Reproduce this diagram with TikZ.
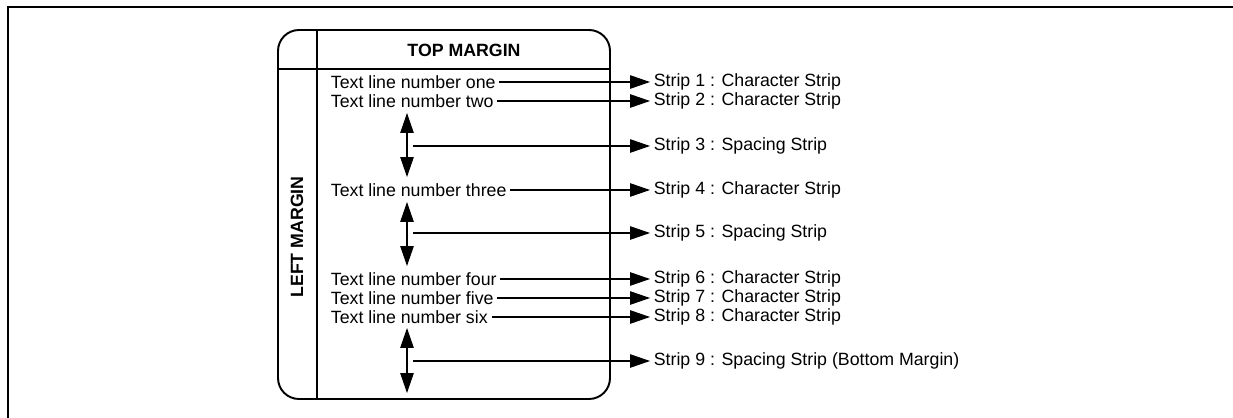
\documentclass[tikz,border=0pt]{standalone}
\usepackage{fontspec}
\setmainfont{Liberation Sans}
\usepackage{tikz}
\usetikzlibrary{arrows.meta, positioning}

\begin{document}
\begin{tikzpicture}[
  x=0.02cm, y=-0.02cm,
  frame/.style={
    line width=1.1pt
  },
  txt/.style={
    anchor=west,
    inner sep=2pt,
    font=\fontsize{10.1}{12}\selectfont
  },
  lead/.style={
    line width=0.6pt,
    -{Triangle[length=0.4cm, width=0.27cm]}
  },
  gaparrow/.style={
    line width=0.6pt,
    {Triangle[length=0.4cm, width=0.27cm]}-{Triangle[length=0.4cm, width=0.27cm]}
  }
]
  \useasboundingbox (0,0) rectangle (1233,418);

  % outer frame
  \draw[frame] (8,418) -- (8,7) -- (1233,7);

  % page with margins
  \draw[frame, rounded corners=0.42cm] (278,30) rectangle (610,399);
  \draw[frame] (317,30) -- (317,399);
  \draw[frame] (278,69) -- (610,69);
  \node[font=\fontsize{10.1}{12}\selectfont\bfseries] (top) at (464,50) {TOP MARGIN};
  \node[font=\fontsize{10.1}{12}\selectfont\bfseries, rotate=90] (left) at (297,237) {LEFT MARGIN};

  % text lines
  \node[txt] (t1) at (327,82) {Text line number one};
  \node[txt] (t2) at (327,101) {Text line number two};
  \node[txt] (t3) at (327,190) {Text line number three};
  \node[txt] (t4) at (327,279) {Text line number four};
  \node[txt] (t5) at (327,298) {Text line number five};
  \node[txt] (t6) at (327,317) {Text line number six};

  % strips
  \node[txt] (s1) at (650,82) {Strip 1 : Character Strip};
  \node[txt] (s2) at (650,101) {Strip 2 : Character Strip};
  \node[txt] (s3) at (650,146) {Strip 3 : Spacing Strip};
  \node[txt] (s4) at (650,190) {Strip 4 : Character Strip};
  \node[txt] (s5) at (650,233) {Strip 5 : Spacing Strip};
  \node[txt] (s6) at (650,279) {Strip 6 : Character Strip};
  \node[txt] (s7) at (650,298) {Strip 7 : Character Strip};
  \node[txt] (s8) at (650,317) {Strip 8 : Character Strip};
  \node[txt] (s9) at (650,361) {Strip 9 : Spacing Strip (Bottom Margin)};

  % character strips
  \draw[lead] (t1) -- (s1);
  \draw[lead] (t2) -- (s2);
  \draw[lead] (t3) -- (s4);
  \draw[lead] (t4) -- (s6);
  \draw[lead] (t5) -- (s7);
  \draw[lead] (t6) -- (s8);

  % spacing strips
  \coordinate (a3) at (407,113);
  \coordinate (b3) at (407,177);
  \coordinate (g3) at (413,146);
  \draw[gaparrow] (a3) -- (b3);
  \draw[lead] (g3) -- (s3);

  \coordinate (a5) at (407,202);
  \coordinate (b5) at (407,266);
  \coordinate (g5) at (413,233);
  \draw[gaparrow] (a5) -- (b5);
  \draw[lead] (g5) -- (s5);

  \coordinate (a9) at (407,328);
  \coordinate (b9) at (407,393);
  \coordinate (g9) at (413,361);
  \draw[gaparrow] (a9) -- (b9);
  \draw[lead] (g9) -- (s9);
\end{tikzpicture}
\end{document}
